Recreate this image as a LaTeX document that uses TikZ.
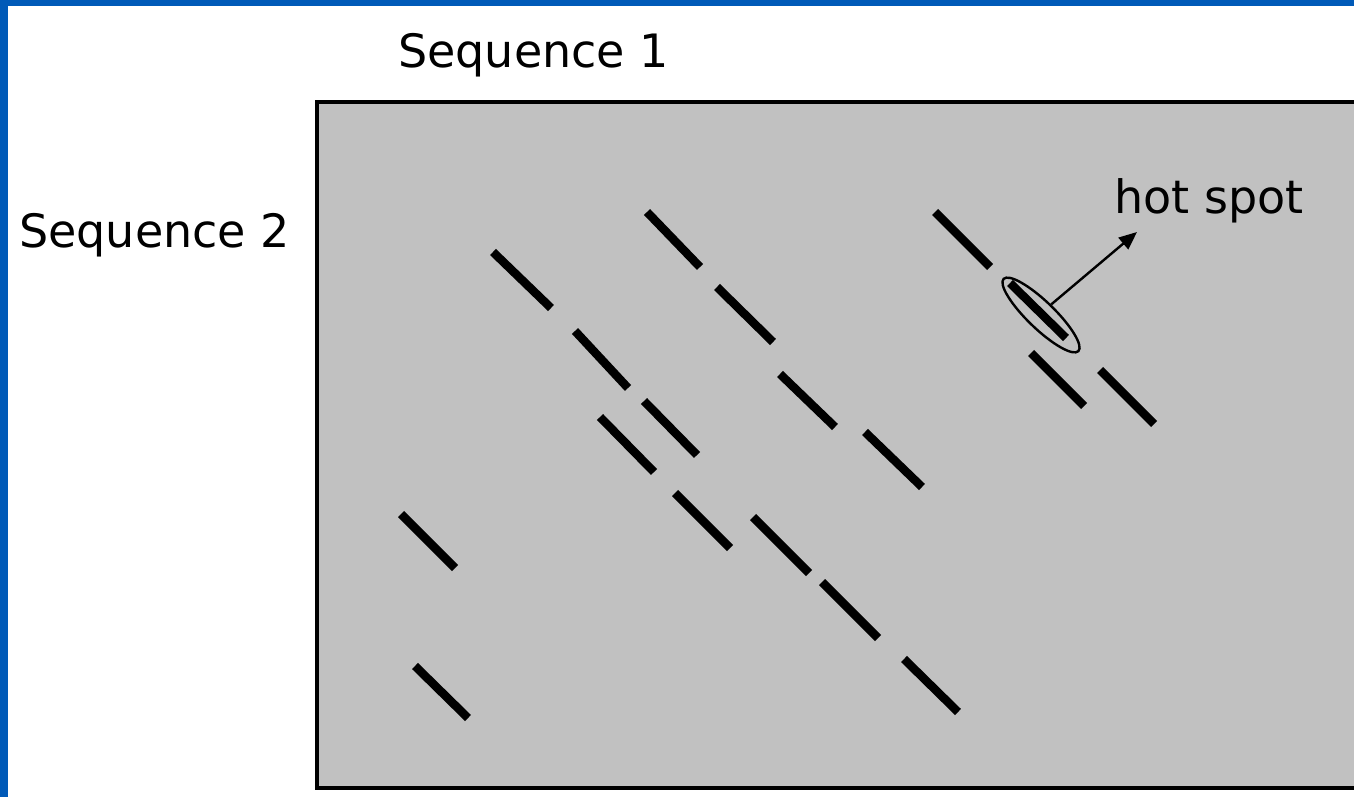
\documentclass[tikz,border=0pt]{standalone}
\usepackage{fontspec}
\setmainfont{DejaVu Sans}
\usetikzlibrary{arrows.meta,shapes.geometric}
\definecolor{slideblue}{RGB}{0,90,184}
\definecolor{plotgray}{RGB}{193,193,193}
\tikzset{
  label text/.style={font=\fontsize{46}{50}\selectfont, inner sep=0pt, anchor=base west},
  hit/.style={line width=8.5pt, black},
  plotarea/.style={fill=plotgray, draw=black, line width=3.5pt},
  marker/.style={draw=black, ellipse, line width=2.4pt, minimum width=104pt, minimum height=27pt, inner sep=0pt},
  pointer/.style={line width=2.4pt, -{Triangle[length=18pt,width=15pt]}}
}
\begin{document}
\begin{tikzpicture}[x=1pt,y=-1pt]
  \useasboundingbox (0,0) rectangle (1354,797);
  % slide frame
  \fill[white] (0,0) rectangle (1354,797);
  \fill[slideblue] (0,0) rectangle (1354,6);
  \fill[slideblue] (0,0) rectangle (8,797);

  % dot plot area
  \begin{scope}
    \clip (0,0) rectangle (1354,797);
    \draw[plotarea] (317,102) rectangle (1370,788);
  \end{scope}

  % axis labels
  \node[label text] (seq1) at (398,68) {Sequence 1};
  \node[label text] (seq2) at (19,247) {Sequence 2};

  % diagonal matches
  \draw[hit] (493,252) -- (551,308);
  \draw[hit] (575,331) -- (628,388);
  \draw[hit] (600,417) -- (654,472);
  \draw[hit] (644,401) -- (697,455);
  \draw[hit] (647,212) -- (700,267);
  \draw[hit] (717,287) -- (773,342);
  \draw[hit] (780,374) -- (835,427);
  \draw[hit] (865,432) -- (922,487);
  \draw[hit] (675,493) -- (730,548);
  \draw[hit] (753,517) -- (809,573);
  \draw[hit] (822,582) -- (878,638);
  \draw[hit] (904,659) -- (958,712);
  \draw[hit] (401,514) -- (455,568);
  \draw[hit] (415,666) -- (468,718);
  \draw[hit] (935,212) -- (990,267);
  \draw[hit] (1010,283) -- (1066,338);
  \draw[hit] (1031,353) -- (1084,406);
  \draw[hit] (1100,370) -- (1154,424);

  % highlighted hot spot
  \node[marker, rotate=-44] (hs) at (1041,315) {};
  \coordinate (hstip) at (1137,232);
  \draw[pointer] (hs.north) -- (hstip);
  \node[label text] (hslabel) at (1114,213) {hot spot};
\end{tikzpicture}
\end{document}
